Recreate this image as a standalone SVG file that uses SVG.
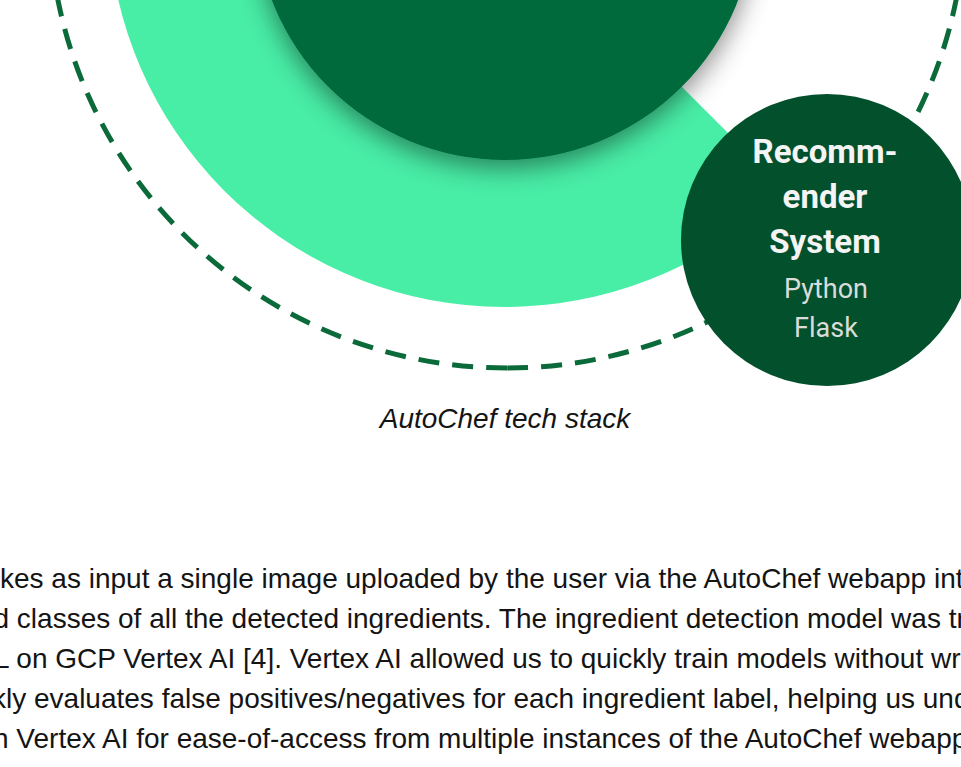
<svg xmlns="http://www.w3.org/2000/svg" width="961" height="767" viewBox="0 0 961 767">
<style>
.body{font-family:"Liberation Sans",Arial,sans-serif;font-size:28px;fill:#141414}
.cap{font-family:"Liberation Sans",Arial,sans-serif;font-size:28px;font-style:italic;fill:#141414}
.ttl{font-family:Roboto,"Noto Sans",sans-serif;font-size:33px;font-weight:bold;fill:#f4f4f4}
.sub{font-family:Roboto,"Noto Sans",sans-serif;font-size:27px;fill:#d9dcd9}
</style>
<defs>
<filter id="shadow" x="-30%" y="-30%" width="160%" height="160%">
<feDropShadow dx="0" dy="8" stdDeviation="13" flood-color="#000" flood-opacity="0.45"/>
</filter>
</defs>
<rect width="961" height="767" fill="#ffffff"/>
<g id="connectors">
<path d="M507,368 A458,458 0 1 1 507,-548 A458,458 0 1 1 507,368" fill="none" stroke="#0b6a39" stroke-width="5" stroke-dasharray="21 13"/>
</g>
<g id="ring">
<path d="M505,-90 L785.7,190.7 A397,397 0 1 1 703.5,-433.8 Z" fill="#48eda6"/>
</g>
<g id="core">
<circle cx="505" cy="-90" r="250" fill="#006a3d" filter="url(#shadow)"/>
</g>
<g id="recommender">
<circle cx="827" cy="240" r="146" fill="#03502d"/>
<text class="ttl" x="825" y="163" text-anchor="middle">Recomm-</text>
<text class="ttl" x="825" y="208" text-anchor="middle">ender</text>
<text class="ttl" x="825" y="253" text-anchor="middle">System</text>
<text class="sub" x="826" y="298" text-anchor="middle">Python</text>
<text class="sub" x="826" y="337" text-anchor="middle">Flask</text>
</g>
<g id="caption">
<text class="cap" x="505" y="428" text-anchor="middle">AutoChef tech stack</text>
</g>
<g id="paragraph">
<text class="body" x="0" y="588">kes as input a single image uploaded by the user via the AutoChef webapp int</text>
<text class="body" x="-6.5" y="628">d classes of all the detected ingredients. The ingredient detection model was tr</text>
<text class="body" x="-6" y="668">L on GCP Vertex AI [4]. Vertex AI allowed us to quickly train models without wr</text>
<text class="body" x="-8" y="708">kly evaluates false positives/negatives for each ingredient label, helping us und</text>
<text class="body" x="-7" y="748">n Vertex AI for ease-of-access from multiple instances of the AutoChef webapp</text>
</g>
</svg>
